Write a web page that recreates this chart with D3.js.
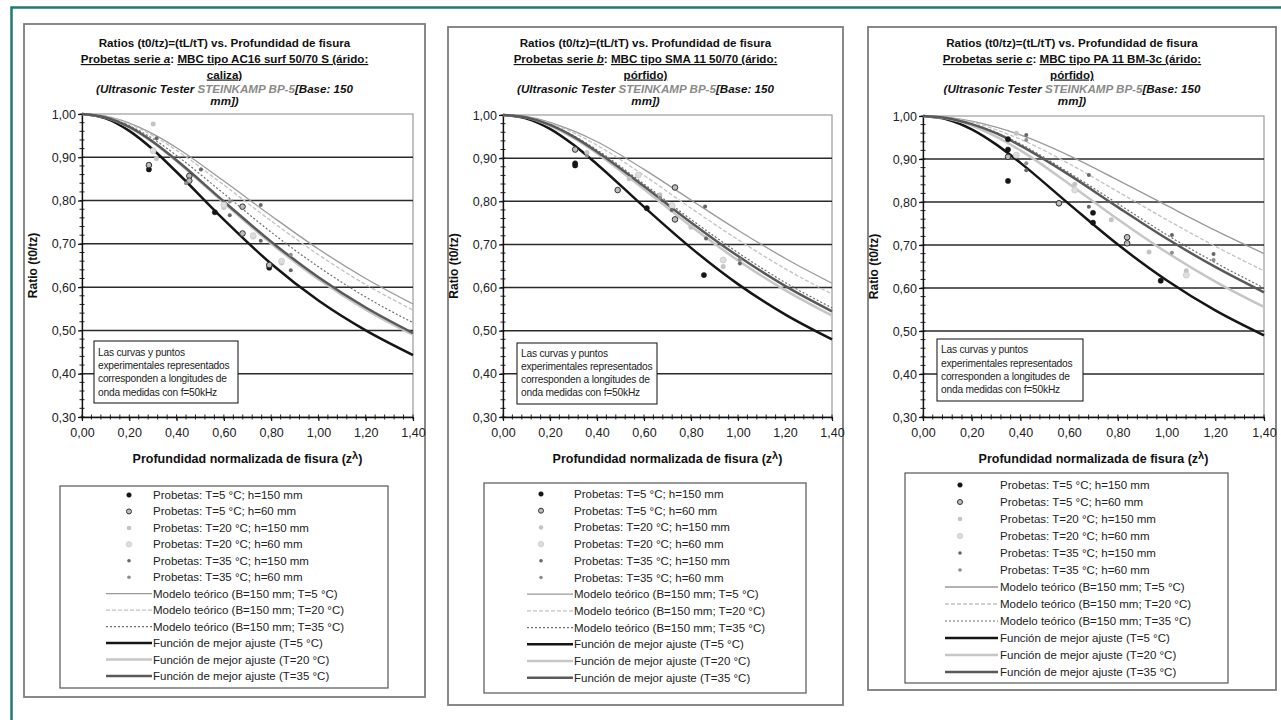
<!DOCTYPE html>
<html>
<head>
<meta charset="utf-8">
<script src="https://cdn.jsdelivr.net/npm/d3@7"></script>
<style>
  body { margin: 0; background: #fff; }
  svg { display: block; font-family: "Liberation Sans", Arial, sans-serif; }
</style>
</head>
<body>
<svg id="chart" width="1281" height="720"></svg>
<script>
// ---------- Data ----------
const xTicks = [0, 0.2, 0.4, 0.6, 0.8, 1.0, 1.2, 1.4];
const yTicks = [0.30, 0.40, 0.50, 0.60, 0.70, 0.80, 0.90, 1.00];
const xKnots = [0, 0.1, 0.2, 0.3, 0.4, 0.6, 0.8, 1.0, 1.2, 1.4];

const legendLabels = [
  "Probetas: T=5 °C; h=150 mm",
  "Probetas: T=5 °C; h=60 mm",
  "Probetas: T=20 °C; h=150 mm",
  "Probetas: T=20 °C; h=60 mm",
  "Probetas: T=35 °C; h=150 mm",
  "Probetas: T=35 °C; h=60 mm",
  "Modelo teórico (B=150 mm; T=5 °C)",
  "Modelo teórico (B=150 mm; T=20 °C)",
  "Modelo teórico (B=150 mm; T=35 °C)",
  "Función de mejor ajuste (T=5 °C)",
  "Función de mejor ajuste (T=20 °C)",
  "Función de mejor ajuste (T=35 °C)"
];

const serieLetters = ["a", "b", "c"];
const mezclas = ["MBC tipo AC16 surf 50/70 S (árido:", "MBC tipo SMA 11 50/70 (árido:", "MBC tipo PA 11 BM-3c (árido:"];
const aridos = ["caliza)", "pórfido)", "pórfido)"];
const noteLines = ["Las curvas y puntos", "experimentales representados", "corresponden a longitudes de", "onda medidas con f=50kHz"];

// Serie a: curves sampled at xKnots
const aModelo5  = [1.000, 0.995, 0.979, 0.954, 0.922, 0.845, 0.765, 0.688, 0.620, 0.561];
const aModelo20 = [1.000, 0.994, 0.977, 0.950, 0.916, 0.836, 0.753, 0.675, 0.606, 0.547];
const aModelo35 = [1.000, 0.993, 0.973, 0.943, 0.904, 0.816, 0.727, 0.647, 0.577, 0.518];
const aAjuste5  = [1.000, 0.990, 0.961, 0.918, 0.866, 0.756, 0.654, 0.569, 0.500, 0.443];
const aAjuste20 = [1.000, 0.992, 0.969, 0.934, 0.891, 0.795, 0.701, 0.618, 0.548, 0.490];
const aAjuste35 = [1.000, 0.992, 0.970, 0.936, 0.893, 0.798, 0.705, 0.623, 0.553, 0.494];
// Serie a: specimens [z/λ, ratio]
const aP5_150  = [[0.283, 0.872], [0.562, 0.773], [0.792, 0.645]];
const aP5_60   = [[0.283, 0.882], [0.454, 0.857], [0.454, 0.846], [0.679, 0.786], [0.679, 0.724], [0.792, 0.651]];
const aP20_150 = [[0.301, 0.977], [0.315, 0.897], [0.600, 0.784], [0.724, 0.716], [0.844, 0.656]];
const aP20_60  = [[0.301, 0.915], [0.600, 0.790], [0.724, 0.719], [0.844, 0.660]];
const aP35_150 = [[0.315, 0.944], [0.503, 0.872], [0.625, 0.766], [0.756, 0.790], [0.756, 0.707], [0.883, 0.639]];
const aP35_60  = [[0.440, 0.840], [0.625, 0.798], [0.883, 0.675]];

// Serie b
const bModelo5  = [1.000, 0.996, 0.983, 0.963, 0.938, 0.874, 0.803, 0.733, 0.668, 0.610];
const bModelo20 = [1.000, 0.995, 0.981, 0.959, 0.930, 0.860, 0.784, 0.711, 0.644, 0.585];
const bModelo35 = [1.000, 0.994, 0.978, 0.952, 0.919, 0.840, 0.758, 0.681, 0.612, 0.553];
const bAjuste5  = [1.000, 0.992, 0.968, 0.931, 0.886, 0.787, 0.692, 0.608, 0.538, 0.480];
const bAjuste20 = [1.000, 0.994, 0.975, 0.947, 0.911, 0.828, 0.742, 0.663, 0.594, 0.535];
const bAjuste35 = [1.000, 0.994, 0.977, 0.950, 0.915, 0.835, 0.751, 0.673, 0.604, 0.545];
const bP5_150  = [[0.307, 0.888], [0.307, 0.883], [0.612, 0.784], [0.855, 0.629]];
const bP5_60   = [[0.307, 0.920], [0.488, 0.826], [0.732, 0.832], [0.732, 0.758]];
const bP20_150 = [[0.357, 0.913], [0.537, 0.852], [0.668, 0.815], [0.800, 0.740], [0.937, 0.649]];
const bP20_60  = [[0.576, 0.861], [0.720, 0.790], [0.937, 0.664]];
const bP35_150 = [[0.718, 0.780], [0.860, 0.788], [0.864, 0.714], [1.008, 0.656]];
const bP35_60  = [[0.357, 0.905], [0.668, 0.808], [1.008, 0.665]];

// Serie c
const cModelo5  = [1.000, 0.997, 0.988, 0.974, 0.956, 0.908, 0.851, 0.792, 0.734, 0.680];
const cModelo20 = [1.000, 0.996, 0.986, 0.968, 0.946, 0.889, 0.824, 0.759, 0.697, 0.640];
const cModelo35 = [1.000, 0.995, 0.982, 0.962, 0.935, 0.868, 0.796, 0.724, 0.659, 0.600];
const cAjuste5  = [1.000, 0.992, 0.969, 0.934, 0.891, 0.795, 0.701, 0.618, 0.548, 0.490];
const cAjuste20 = [1.000, 0.994, 0.978, 0.952, 0.920, 0.842, 0.760, 0.683, 0.615, 0.556];
const cAjuste35 = [1.000, 0.995, 0.981, 0.960, 0.931, 0.863, 0.788, 0.715, 0.649, 0.590];
const cP5_150  = [[0.349, 0.946], [0.349, 0.922], [0.349, 0.849], [0.558, 0.797], [0.698, 0.775], [0.698, 0.752], [0.976, 0.617]];
const cP5_60   = [[0.349, 0.905], [0.558, 0.797], [0.838, 0.718], [0.838, 0.704]];
const cP20_150 = [[0.383, 0.960], [0.623, 0.841], [0.773, 0.759], [0.928, 0.684], [1.081, 0.640]];
const cP20_60  = [[0.383, 0.909], [0.623, 0.828], [1.081, 0.630]];
const cP35_150 = [[0.424, 0.956], [0.424, 0.874], [0.681, 0.863], [0.681, 0.789], [1.022, 0.723], [1.193, 0.679]];
const cP35_60  = [[0.424, 0.944], [0.424, 0.890], [1.022, 0.682], [1.193, 0.665]];

// ---------- Styles ----------
const curveStyles = [
  { stroke: "#9a9a9a", width: 1.3, dash: null },
  { stroke: "#c2c2c2", width: 1.3, dash: "4,2" },
  { stroke: "#6e6e6e", width: 1.2, dash: "2,2" },
  { stroke: "#151515", width: 2.5, dash: null },
  { stroke: "#c6c6c6", width: 2.5, dash: null },
  { stroke: "#595959", width: 2.5, dash: null }
];
const markerStyles = [
  { r: 2.6, fill: "#151515", stroke: "#151515", sw: 0.5 },
  { r: 2.8, fill: "#bdbdbd", stroke: "#333", sw: 1 },
  { r: 2.5, fill: "#c4c4c4", stroke: "none", sw: 0 },
  { r: 3.0, fill: "#dedede", stroke: "#c8c8c8", sw: 0.8 },
  { r: 2.0, fill: "#666", stroke: "none", sw: 0 },
  { r: 2.0, fill: "#8e8e8e", stroke: "none", sw: 0 }
];

const panels = [
  {
    box: [24, 24, 425, 697], plot: [82, 114, 413, 417],
    legend: { box: [60, 486, 388, 688], y0: 495, dy: 16.45, sx: [106, 152], mx: 129, tx: 153 },
    note: { box: [94, 341, 238, 403], x: 98, ys: [356, 369, 382, 396] },
    curves: [aModelo5, aModelo20, aModelo35, aAjuste5, aAjuste20, aAjuste35],
    points: [aP5_150, aP5_60, aP20_150, aP20_60, aP35_150, aP35_60]
  },
  {
    box: [448, 27, 843, 705], plot: [503, 115, 832, 417],
    legend: { box: [484, 483, 806, 693], y0: 494, dy: 16.7, sx: [527, 573], mx: 541, tx: 574 },
    note: { box: [517, 343, 657, 404], x: 521, ys: [357, 370, 383, 396] },
    curves: [bModelo5, bModelo20, bModelo35, bAjuste5, bAjuste20, bAjuste35],
    points: [bP5_150, bP5_60, bP20_150, bP20_60, bP35_150, bP35_60]
  },
  {
    box: [868, 27, 1276, 690], plot: [923, 116, 1264, 417],
    legend: { box: [905, 473, 1228, 683], y0: 485, dy: 17, sx: [945, 998], mx: 960, tx: 1000 },
    note: { box: [937, 339, 1083, 401], x: 941, ys: [353, 367, 380, 393] },
    curves: [cModelo5, cModelo20, cModelo35, cAjuste5, cAjuste20, cAjuste35],
    points: [cP5_150, cP5_60, cP20_150, cP20_60, cP35_150, cP35_60]
  }
];

const fmt = d3.formatLocale({ decimal: ",", thousands: ".", grouping: [3], currency: ["", "€"] }).format(".2f");
const svg = d3.select("#chart");

// Outer teal frame
svg.append("path").attr("d", "M11.5,720 V7.5 H1281").attr("fill", "none")
  .attr("stroke", "#1e7a72").attr("stroke-width", 2.5);

panels.forEach((p, pi) => {
  const g = svg.append("g");
  const [bx0, by0, bx1, by1] = p.box;
  const [px0, py0, px1, py1] = p.plot;

  g.append("rect").attr("x", bx0).attr("y", by0).attr("width", bx1 - bx0).attr("height", by1 - by0)
    .attr("fill", "#fff").attr("stroke", "#7c7c7c").attr("stroke-width", 1.8);

  const x = d3.scaleLinear().domain([0, 1.4]).range([px0, px1]);
  const y = d3.scaleLinear().domain([0.3, 1.0]).range([py1, py0]);

  // Title
  const cx = (bx0 + bx1) / 2;
  const fs = 11.6;
  g.append("text").attr("text-anchor", "middle").attr("font-size", fs).attr("font-weight", "bold")
    .attr("fill", "#111").attr("x", cx).attr("y", 46.5)
    .text("Ratios (t0/tz)=(tL/tT) vs. Profundidad de fisura");
  const l2 = g.append("text").attr("text-anchor", "middle").attr("font-size", fs)
    .attr("font-weight", "bold").attr("fill", "#111").attr("x", cx).attr("y", 63);
  l2.append("tspan").style("text-decoration", "underline").text("Probetas serie ");
  l2.append("tspan").style("text-decoration", "underline").attr("font-style", "italic").text(serieLetters[pi]);
  l2.append("tspan").text(": ");
  l2.append("tspan").style("text-decoration", "underline").text(mezclas[pi]);
  g.append("text").attr("text-anchor", "middle").attr("font-size", fs).attr("font-weight", "bold")
    .attr("x", cx).attr("y", 78.5).style("text-decoration", "underline").attr("fill", "#111").text(aridos[pi]);
  const l4 = g.append("text").attr("text-anchor", "middle").attr("font-size", fs)
    .attr("font-weight", "bold").attr("font-style", "italic").attr("x", cx).attr("y", 92.5).attr("fill", "#111");
  l4.append("tspan").text("(Ultrasonic Tester ");
  l4.append("tspan").attr("fill", "#8a8a8a").text("STEINKAMP BP-5");
  l4.append("tspan").text("[Base: 150");
  g.append("text").attr("text-anchor", "middle").attr("font-size", fs).attr("font-weight", "bold")
    .attr("font-style", "italic").attr("x", cx).attr("y", 105).attr("fill", "#111").text("mm])");

  // Plot frame and gridlines
  g.append("rect").attr("x", px0).attr("y", py0).attr("width", px1 - px0).attr("height", py1 - py0)
    .attr("fill", "#fff").attr("stroke", "#9c9c9c").attr("stroke-width", 1.2);
  g.selectAll("line.grid").data(yTicks.filter(v => v > 0.3 && v < 1.0)).join("line")
    .attr("x1", px0).attr("x2", px1).attr("y1", d => y(d)).attr("y2", d => y(d))
    .attr("stroke", "#2a2a2a").attr("stroke-width", 1.5);

  // Minor ticks
  const yMinor = d3.range(30, 101, 2).map(v => v / 100);
  g.selectAll("line.ym").data(yMinor).join("line")
    .attr("x1", px0 - 2.5).attr("x2", px0 + 2.5).attr("y1", d => y(d)).attr("y2", d => y(d))
    .attr("stroke", "#222").attr("stroke-width", 1);
  const xMinor = d3.range(0, 141, 4).map(v => v / 100);
  g.selectAll("line.xm").data(xMinor).join("line")
    .attr("x1", d => x(d)).attr("x2", d => x(d)).attr("y1", py1 - 2.5).attr("y2", py1 + 2.5)
    .attr("stroke", "#222").attr("stroke-width", 1);

  // Axes
  const yAxis = g.append("g").attr("transform", `translate(${px0},0)`)
    .call(d3.axisLeft(y).tickValues(yTicks).tickSize(4).tickSizeOuter(0).tickPadding(2).tickFormat(fmt));
  const xAxis = g.append("g").attr("transform", `translate(0,${py1})`)
    .call(d3.axisBottom(x).tickValues(xTicks).tickSize(4).tickSizeOuter(0).tickPadding(7).tickFormat(fmt));
  [yAxis, xAxis].forEach(a => {
    a.select(".domain").attr("stroke", "#111").attr("stroke-width", 1.3);
    a.selectAll(".tick line").attr("stroke", "#111").attr("stroke-width", 1.2);
    a.selectAll(".tick text").attr("font-size", 12.5).attr("fill", "#222")
      .attr("font-family", "'Liberation Sans', Arial, sans-serif");
  });

  // Axis titles
  g.append("text").attr("x", (px0 + px1) / 2).attr("y", py1 + 46).attr("text-anchor", "middle")
    .attr("font-size", 12.5).attr("font-weight", "bold").attr("fill", "#111")
    .call(t => {
      t.append("tspan").text("Profundidad normalizada de fisura (z");
      t.append("tspan").attr("dy", -4).attr("font-size", 11).text("λ");
      t.append("tspan").attr("dy", 4).text(")");
    });
  g.append("text").attr("transform", `translate(${px0 - 45},${(py0 + py1) / 2}) rotate(-90)`)
    .attr("text-anchor", "middle").attr("font-size", 12).attr("font-weight", "bold").attr("fill", "#111")
    .text("Ratio (t0/tz)");

  // Curves
  const clipId = "clip" + pi;
  g.append("clipPath").attr("id", clipId).append("rect")
    .attr("x", px0).attr("y", py0 - 2).attr("width", px1 - px0 + 2).attr("height", py1 - py0 + 2);
  const line = d3.line().x(d => x(d[0])).y(d => y(d[1])).curve(d3.curveMonotoneX);
  const cg = g.append("g").attr("clip-path", `url(#${clipId})`);
  p.curves.forEach((vals, i) => {
    const st = curveStyles[i];
    cg.append("path").datum(xKnots.map((xv, k) => [xv, vals[k]]))
      .attr("d", line).attr("fill", "none").attr("stroke", st.stroke).attr("stroke-width", st.width)
      .attr("stroke-dasharray", st.dash);
  });

  // Specimen points
  p.points.forEach((pts, i) => {
    const ms = markerStyles[i];
    cg.selectAll(null).data(pts).join("circle")
      .attr("cx", d => x(d[0])).attr("cy", d => y(d[1])).attr("r", ms.r)
      .attr("fill", ms.fill).attr("stroke", ms.stroke).attr("stroke-width", ms.sw);
  });

  // Note box
  const n = p.note;
  g.append("rect").attr("x", n.box[0]).attr("y", n.box[1]).attr("width", n.box[2] - n.box[0])
    .attr("height", n.box[3] - n.box[1]).attr("fill", "#fff").attr("stroke", "#222").attr("stroke-width", 1.1);
  g.selectAll(null).data(noteLines).join("text")
    .attr("x", n.x).attr("y", (d, i) => n.ys[i]).attr("font-size", 10.2).attr("letter-spacing", -0.2)
    .attr("fill", "#222").text(d => d);

  // Legend
  const L = p.legend;
  g.append("rect").attr("x", L.box[0]).attr("y", L.box[1]).attr("width", L.box[2] - L.box[0])
    .attr("height", L.box[3] - L.box[1]).attr("fill", "#fff").attr("stroke", "#555").attr("stroke-width", 1.2);
  legendLabels.forEach((lab, i) => {
    const ly = L.y0 + i * L.dy;
    if (i < 6) {
      const ms = markerStyles[i];
      g.append("circle").attr("cx", L.mx).attr("cy", ly).attr("r", ms.r * 0.9)
        .attr("fill", ms.fill).attr("stroke", ms.stroke).attr("stroke-width", ms.sw);
    } else {
      const st = curveStyles[i - 6];
      g.append("line").attr("x1", L.sx[0]).attr("x2", L.sx[1]).attr("y1", ly).attr("y2", ly)
        .attr("stroke", st.stroke).attr("stroke-width", st.width).attr("stroke-dasharray", st.dash);
    }
    g.append("text").attr("x", L.tx).attr("y", ly + 4).attr("font-size", 11.5).attr("fill", "#222").text(lab);
  });
});
</script>
</body>
</html>
